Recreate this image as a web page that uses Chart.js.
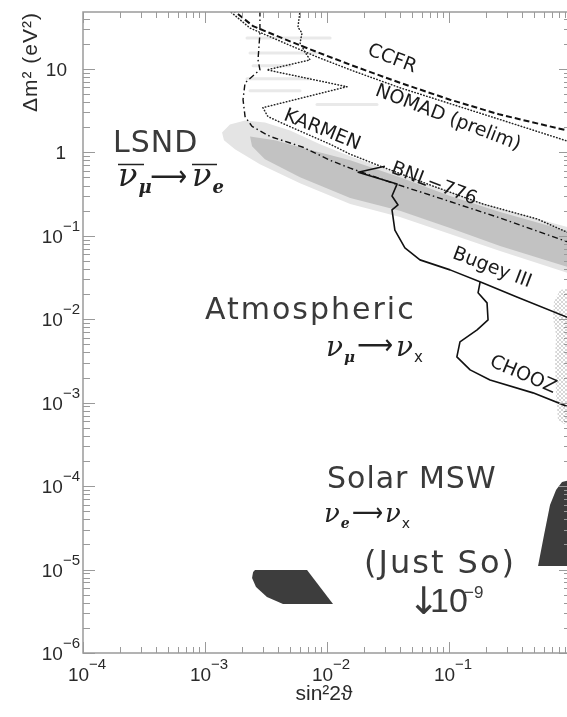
<!DOCTYPE html>
<html>
<head>
<meta charset="utf-8">
<script src="https://cdn.jsdelivr.net/npm/chart.js@4.4.1/dist/chart.umd.min.js"></script>
<style>
html, body { margin: 0; padding: 0; background: #fff; overflow: hidden; }
#wrap { width: 580px; height: 717px; }
</style>
</head>
<body>
<div id="wrap"><canvas id="chart" width="580" height="717"></canvas></div>
<script>
/* axes: sin^2(2 theta) vs delta m^2 (eV^2) */
const xDecades = [-4, -3, -2, -1, 0];
const yDecades = [-6, -5, -4, -3, -2, -1, 0, 1];

/* exclusion curves */
const ccfrSin = [1.63e-3, 2.48e-3, 4.70e-3, 8.28e-3, 1.63e-2, 3.96e-2, 0.102, 0.262, 1.0];
const ccfrDm  = [53, 32.5, 22.1, 15.9, 10.9, 6.81, 4.27, 2.83, 1.78];

const nomadSin = [1.50e-3, 2.34e-3, 4.70e-3, 8.28e-3, 1.63e-2, 3.96e-2, 0.102, 0.262, 1.0];
const nomadDm  = [53, 30.8, 19.8, 13.9, 9.47, 5.94, 3.83, 2.47, 1.32];

const karmenSin = [6.01e-3, 5.78e-3, 6.24e-3, 6.01e-3, 6.61e-3, 7.26e-3, 3.22e-3, 1.46e-2, 2.98e-3, 3.28e-3, 4.36e-3, 1.06e-2, 1.55e-2, 2.88e-2, 7.39e-2, 0.190, 0.527, 1.0];
const karmenDm  = [50, 31.6, 26.8, 20.4, 15.9, 12.8, 9.73, 6.11, 3.43, 2.68, 2.21, 1.25, 0.947, 0.663, 0.394, 0.240, 0.159, 0.105];

const bnlSin = [2.82e-3, 2.82e-3, 2.72e-3, 2.82e-3, 2.13e-3, 2.05e-3, 2.13e-3, 2.43e-3, 3.41e-3, 6.36e-3, 1.06e-2, 1.55e-2, 3.47e-2, 6.98e-2, 0.247, 1.0];
const bnlDm  = [50, 26.8, 12.8, 9.73, 6.81, 4.27, 2.68, 2.04, 1.55, 1.15, 0.803, 0.645, 0.427, 0.308, 0.168, 0.082];

const bugeySin = [2.98e-2, 1.80e-2, 3.75e-2, 3.41e-2, 3.82e-2, 3.41e-2, 3.60e-2, 4.35e-2, 5.78e-2, 0.102, 0.190, 0.360, 1.0];
const bugeyDm  = [0.682, 0.578, 0.416, 0.299, 0.234, 0.204, 0.117, 0.0714, 0.0514, 0.0390, 0.0272, 0.0185, 0.0101];

const choozSin = [0.180, 0.173, 0.205, 0.209, 0.170, 0.123, 0.116, 0.149, 0.217, 0.488, 1.0];
const choozDm  = [0.0280, 0.0207, 0.0157, 0.0098, 0.00745, 0.00535, 0.00353, 0.00247, 0.00187, 0.00131, 0.000865];

/* allowed regions */
const lsndLightSin = [1.38e-3, 1.60e-3, 2.13e-3, 3.10e-3, 4.98e-3, 8.77e-3, 1.55e-2, 3.96e-2, 0.102, 0.262, 1.0, 1.0, 0.262, 0.102, 3.96e-2, 1.55e-2, 6.01e-3, 2.82e-3, 1.76e-3, 1.43e-3];
const lsndLightDm  = [1.73, 2.15, 2.40, 2.28, 1.83, 1.25, 0.896, 0.547, 0.334, 0.210, 0.124, 0.0349, 0.0658, 0.105, 0.168, 0.240, 0.427, 0.720, 1.09, 1.39];

const lsndDarkSin = [2.34e-3, 3.75e-3, 6.01e-3, 1.55e-2, 3.96e-2, 0.102, 0.262, 1.0, 1.0, 0.262, 0.102, 3.96e-2, 1.55e-2, 6.01e-3, 3.10e-3, 2.43e-3];
const lsndDarkDm  = [1.55, 1.39, 1.15, 0.803, 0.504, 0.299, 0.193, 0.111, 0.0412, 0.0755, 0.124, 0.199, 0.283, 0.504, 0.825, 1.18];

// high dm^2 LSND islands (thin streaks)
const streakDm   = [23.4, 15.5, 10.9, 7.60, 5.47, 3.73];
const streakFrom = [2.21e-3, 2.34e-3, 2.48e-3, 2.21e-3, 2.34e-3, 8.28e-3];
const streakTo   = [1.06e-2, 8.28e-3, 4.98e-3, 7.26e-3, 6.01e-3, 2.57e-2];

const atmSin = [1.0, 0.813, 0.725, 0.712, 0.754, 0.739, 0.754, 0.782, 1.0];
const atmDm  = [0.0237, 0.0224, 0.0161, 0.0104, 0.00649, 0.00325, 0.00124, 0.000621, 0.000498];

const smaSin = [2.57e-3, 6.86e-3, 1.12e-2, 4.36e-3, 3.22e-3, 2.62e-3, 2.43e-3, 2.48e-3];
const smaDm  = [9.89e-6, 9.89e-6, 3.86e-6, 3.86e-6, 4.69e-6, 6.18e-6, 7.93e-6, 9.35e-6];

const lmaSin = [0.537, 0.601, 0.673, 0.754, 0.844, 1.0, 1.0];
const lmaDm  = [1.10e-5, 2.59e-5, 5.94e-5, 8.99e-5, 1.12e-4, 1.19e-4, 1.10e-5];


function pts(xs, ys) {
    return xs.map((v, i) => ({x: v, y: ys[i]}));
}

const canvas = document.getElementById('chart');

function makeHatch() {
    const c = document.createElement('canvas');
    c.width = 4; c.height = 4;
    const g = c.getContext('2d');
    g.strokeStyle = 'rgba(120,120,120,0.5)';
    g.lineWidth = 0.6;
    g.beginPath();
    g.moveTo(0, 0); g.lineTo(4, 4);
    g.moveTo(4, 0); g.lineTo(0, 4);
    g.stroke();
    return canvas.getContext('2d').createPattern(c, 'repeat');
}

const base = {pointRadius: 0, tension: 0, clip: 0, borderJoinStyle: 'round', fill: false};
const noLine = 'rgba(0,0,0,0)';
const dots = {borderDash: [0.5, 2.6], borderCapStyle: 'round', borderWidth: 1.5, borderColor: '#222'};

const datasets = [
    {...base, label: 'CCFR', data: pts(ccfrSin, ccfrDm), borderColor: '#111', borderWidth: 2, borderDash: [6, 3]},
    {...base, ...dots, label: 'NOMAD', data: pts(nomadSin, nomadDm)},
    {...base, ...dots, label: 'KARMEN', data: pts(karmenSin, karmenDm)},
    {...base, label: 'BNL-776', data: pts(bnlSin, bnlDm), borderColor: '#111', borderWidth: 1.4, borderDash: [6, 3, 1.5, 3]},
    {...base, label: 'Bugey', data: pts(bugeySin, bugeyDm), borderColor: '#111', borderWidth: 1.6},
    {...base, label: 'CHOOZ', data: pts(choozSin, choozDm), borderColor: '#111', borderWidth: 1.6},
    {...base, label: 'SMA', data: pts(smaSin, smaDm), borderColor: noLine, fill: 'shape', backgroundColor: '#3d3d3d'},
    {...base, label: 'LMA', data: pts(lmaSin, lmaDm), borderColor: noLine, fill: 'shape', backgroundColor: '#3d3d3d'},
    {...base, label: 'Atm', data: pts(atmSin, atmDm), borderColor: noLine, fill: 'shape', backgroundColor: makeHatch()}
];

streakDm.forEach((m, i) => {
    datasets.push({...base, label: 'streak', data: [{x: streakFrom[i], y: m}, {x: streakTo[i], y: m}],
        borderColor: 'rgba(215,215,215,0.55)', borderWidth: 3, borderCapStyle: 'round'});
});

datasets.push({...base, label: 'LSND dark', data: pts(lsndDarkSin, lsndDarkDm), borderColor: noLine, fill: 'shape', backgroundColor: '#c2c2c2'});
datasets.push({...base, label: 'LSND light', data: pts(lsndLightSin, lsndLightDm), borderColor: noLine, fill: 'shape', backgroundColor: '#e4e4e4'});


/* text helpers */
function text(ctx, s, x, y, font, color, align, spacing) {
    ctx.font = font;
    ctx.fillStyle = color;
    ctx.textAlign = align || 'left';
    ctx.textBaseline = 'alphabetic';
    ctx.letterSpacing = spacing || '0px';
    ctx.fillText(s, x, y);
    ctx.letterSpacing = '0px';
}

function width(ctx, s, font) {
    ctx.font = font;
    return ctx.measureText(s).width;
}

// nu with subscript, returns end x
function nu(ctx, x, y, sub, size, subItalic) {
    const f = 'italic ' + size + 'px "DejaVu Serif"';
    text(ctx, 'ν', x, y, f, '#222');
    const w = width(ctx, 'ν', f);
    const sf = (subItalic ? 'italic bold ' : '') + Math.round(size * 0.55) + 'px ' + (subItalic ? '"DejaVu Serif"' : '"DejaVu Sans"');
    text(ctx, sub, x + w + 1, y + size * 0.22, sf, '#222');
    return x + w + 1 + width(ctx, sub, sf);
}

function arrow(ctx, x, y, w, size) {
    const f = size + 'px "DejaVu Sans"';
    ctx.font = f;
    const aw = ctx.measureText('⟶').width;
    ctx.save();
    ctx.translate(x, y);
    ctx.scale(w / aw, 1);
    text(ctx, '⟶', 0, 0, f, '#222');
    ctx.restore();
}

const decor = {
    id: 'decor',
    afterDraw(chart) {
        const {ctx, chartArea: a, scales: {x, y}} = chart;
        ctx.save();

        // frame
        ctx.strokeStyle = '#9a9a9a';
        ctx.lineWidth = 1.5;
        ctx.strokeRect(a.left, a.top, a.right - a.left, a.bottom - a.top);

        // inward ticks
        ctx.lineWidth = 1;
        ctx.beginPath();
        xDecades.forEach(e => {
            for (let k = 1; k <= 9; k++) {
                const v = k * Math.pow(10, e);
                if (v > x.max * 1.001) break;
                const px = Math.round(x.getPixelForValue(v)) + 0.5;
                const len = k === 1 ? 11 : 6;
                ctx.moveTo(px, a.bottom); ctx.lineTo(px, a.bottom - len);
                ctx.moveTo(px, a.top); ctx.lineTo(px, a.top + len);
            }
        });
        yDecades.forEach(e => {
            for (let k = 1; k <= 9; k++) {
                const v = k * Math.pow(10, e);
                if (v > y.max * 1.001) break;
                const py = Math.round(y.getPixelForValue(v)) + 0.5;
                const len = k === 1 ? 12 : 7;
                ctx.moveTo(a.left, py); ctx.lineTo(a.left + len, py);
                ctx.moveTo(a.right, py); ctx.lineTo(a.right - len, py);
            }
        });
        ctx.stroke();

        // tick labels
        const bf = '19px "Liberation Sans"';
        const sf = '15px "Liberation Sans"';
        const lc = '#2a2a2a';
        yDecades.forEach(e => {
            const py = y.getPixelForValue(Math.pow(10, e));
            if (e === 1) { text(ctx, '10', 67, py + 7, bf, lc, 'right'); return; }
            if (e === 0) { text(ctx, '1', 66, py + 7, bf, lc, 'right'); return; }
            const sup = '−' + (-e);
            const sw = width(ctx, sup, sf);
            text(ctx, sup, 80, py - 5, sf, lc, 'right');
            text(ctx, '10', 80 - sw, py + 7, bf, lc, 'right');
        });
        xDecades.forEach(e => {
            const px = x.getPixelForValue(Math.pow(10, e));
            if (e === 0) { text(ctx, '1', px, 681, bf, lc, 'center'); return; }
            const sup = '−' + (-e);
            const bw = width(ctx, '10', bf), sw = width(ctx, sup, sf);
            const x0 = px - (bw + sw) / 2 + 4;
            text(ctx, '10', x0, 681, bf, lc, 'left');
            text(ctx, sup, x0 + bw, 669, sf, lc, 'left');
        });

        // axis titles
        text(ctx, 'sin²2ϑ', 324, 700, '21px "Liberation Sans", "DejaVu Sans"', lc, 'center');
        ctx.save();
        ctx.translate(37, 62);
        ctx.rotate(-Math.PI / 2);
        text(ctx, 'Δm² (eV²)', 0, 0, '21px "Liberation Sans"', lc, 'center', '1px');
        ctx.restore();

        // curve labels
        const cf = '19px "DejaVu Sans"';
        [['CCFR', 392, 59, 21], ['NOMAD (prelim)', 448, 118, 21], ['KARMEN', 322, 130, 22],
         ['BNL−776', 434, 184, 21], ['Bugey III', 492, 268, 21], ['CHOOZ', 523, 375, 23]].forEach(l => {
            ctx.save();
            ctx.translate(l[1], l[2]);
            ctx.rotate(l[3] * Math.PI / 180);
            ctx.font = cf; ctx.fillStyle = '#1a1a1a';
            ctx.textAlign = 'center'; ctx.textBaseline = 'middle';
            ctx.fillText(l[0], 0, 0);
            ctx.restore();
        });

        // region labels
        const big = '30px "DejaVu Sans"';
        const gc = '#3a3a3a';
        text(ctx, 'LSND', 113, 152, big, gc, 'left', '1px');
        nu(ctx, 118, 186, 'μ', 32, true);
        arrow(ctx, 150, 186, 37, 30);
        nu(ctx, 192, 186, 'e', 32, true);
        ctx.strokeStyle = '#222'; ctx.lineWidth = 1.6;
        ctx.beginPath();
        ctx.moveTo(118, 164.5); ctx.lineTo(144, 164.5);
        ctx.moveTo(192, 164.5); ctx.lineTo(217, 164.5);
        ctx.stroke();

        text(ctx, 'Atmospheric', 205, 319, big, gc, 'left', '2px');
        nu(ctx, 326, 356, 'μ', 28, true);
        arrow(ctx, 357, 354, 36, 28);
        nu(ctx, 396, 356, 'x', 28, false);

        text(ctx, 'Solar MSW', 327, 488, big, gc, 'left', '1px');
        nu(ctx, 324, 522, 'e', 26, true);
        arrow(ctx, 352, 521, 31, 26);
        nu(ctx, 385, 522, 'x', 26, false);

        text(ctx, '(Just So)', 364, 573, '32px "DejaVu Sans"', gc, 'left', '2px');
        text(ctx, '↓', 408, 614, '38px "DejaVu Sans"', gc, 'left');
        text(ctx, '10', 430, 612, '34px "Liberation Sans"', gc, 'left');
        text(ctx, '−9', 464, 598, '17px "Liberation Sans"', gc, 'left');

        ctx.restore();
    }
};

new Chart(canvas, {
    type: 'line',
    data: {datasets: datasets},
    options: {
        responsive: false,
        animation: false,
        devicePixelRatio: 1,
        layout: {padding: {left: 83, right: 9, top: 12, bottom: 64}},
        scales: {
            x: {type: 'logarithmic', min: 1e-4, max: 1, display: false},
            y: {type: 'logarithmic', min: 1e-6, max: 48, display: false}
        },
        plugins: {
            legend: {display: false},
            tooltip: {enabled: false}
        }
    },
    plugins: [decor]
});
</script>
</body>
</html>
